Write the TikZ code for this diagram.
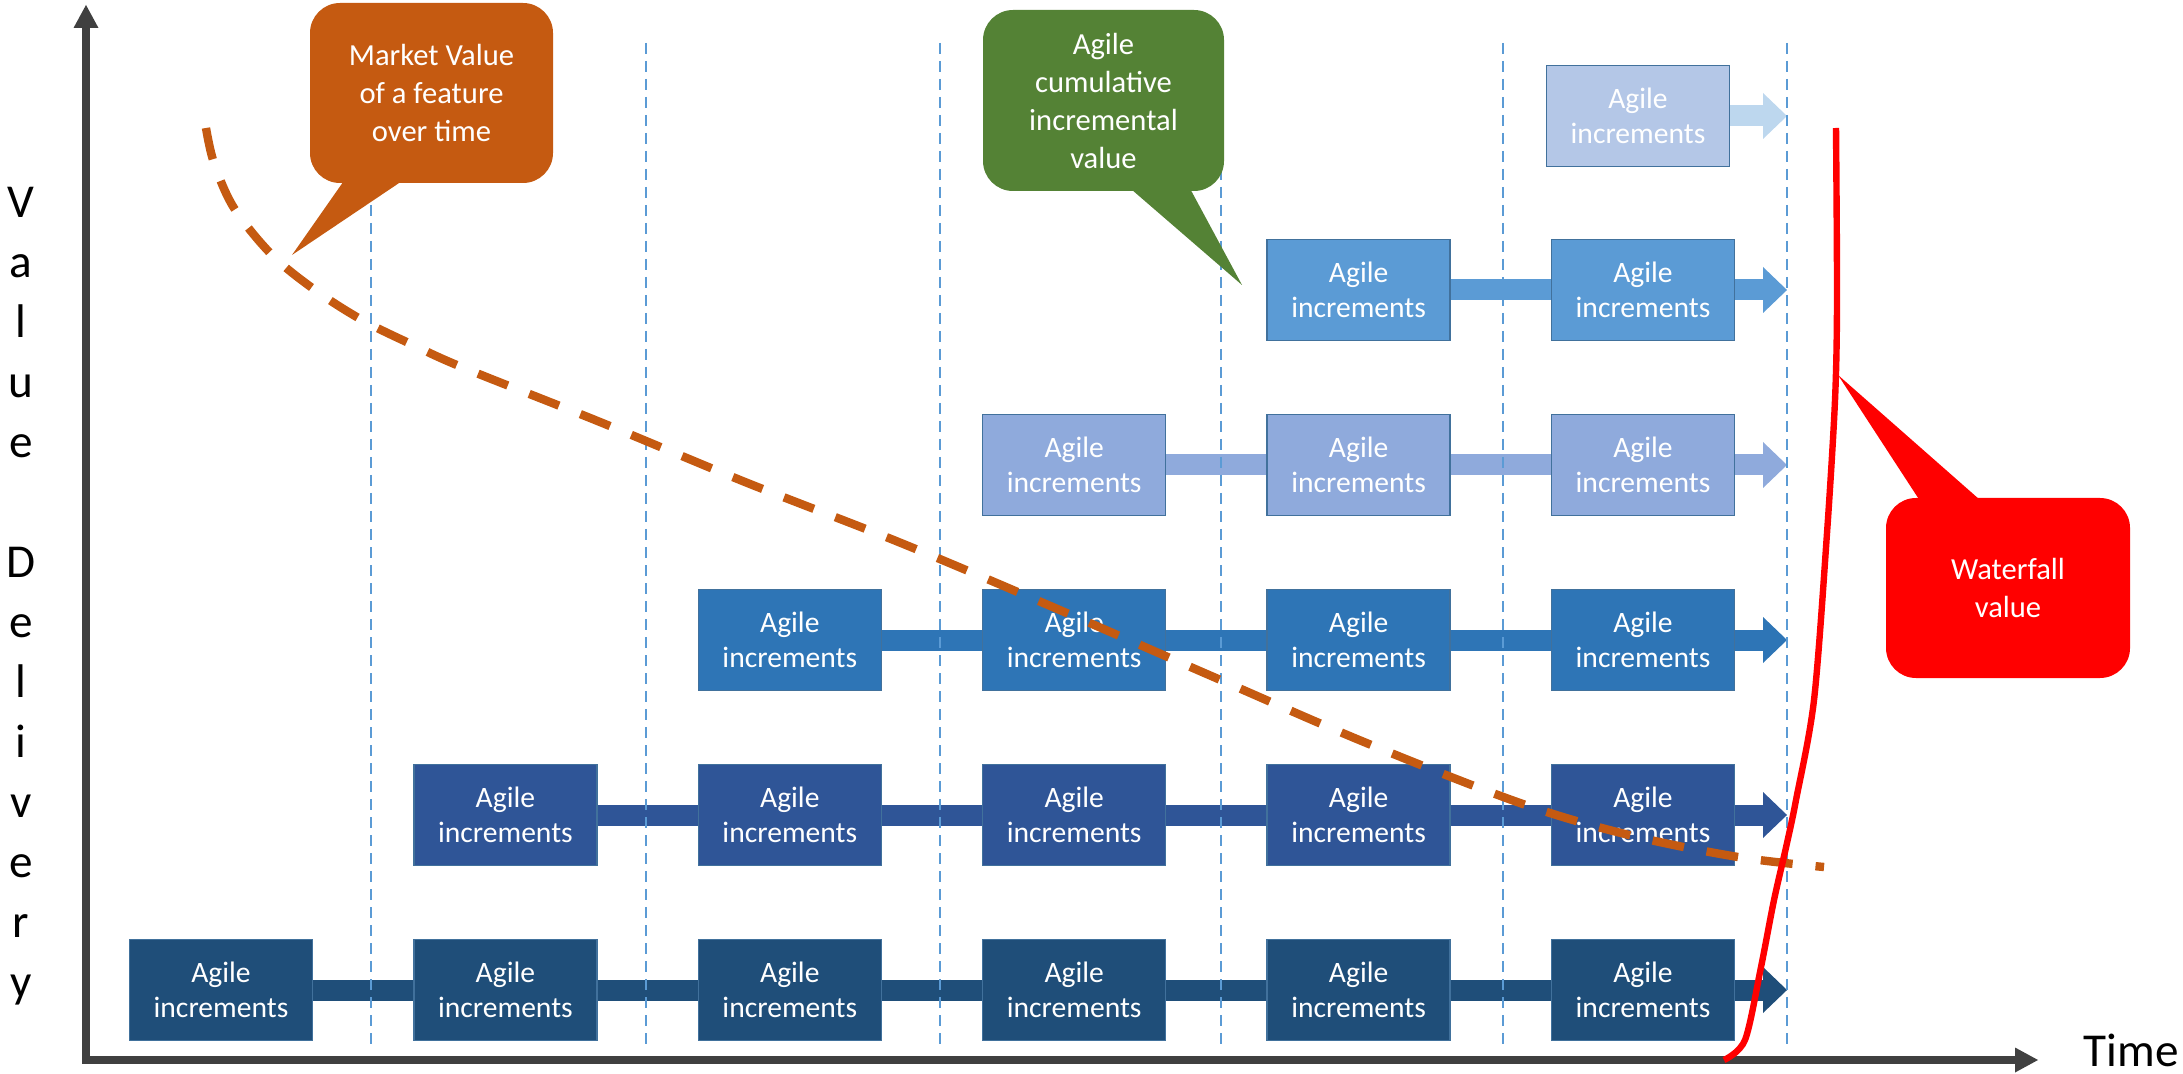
\documentclass[tikz,border=0pt]{standalone}
\usepackage{fontspec}
\setmainfont{Carlito}
\usetikzlibrary{arrows.meta}
\definecolor{axisgray}{HTML}{404040}
\definecolor{rowA}{HTML}{1F4E79}
\definecolor{rowB}{HTML}{2F5597}
\definecolor{rowC}{HTML}{2E75B6}
\definecolor{rowD}{HTML}{8FAADC}
\definecolor{rowE}{HTML}{5B9BD5}
\definecolor{rowF}{HTML}{B4C7E7}
\definecolor{rowFarrow}{HTML}{BDD7EE}
\definecolor{boxline}{HTML}{41719C}
\definecolor{gridblue}{HTML}{5B9BD5}
\definecolor{mvorange}{HTML}{C55A11}
\definecolor{aggreen}{HTML}{548235}
\definecolor{wfred}{HTML}{FF0000}
\begin{document}
\begin{tikzpicture}[x=0.5pt,y=-0.5pt,
  inc/.style={draw=boxline, line width=0.75pt, minimum width=91.5pt, minimum height=50.5pt,
    inner sep=0pt, align=center, text=white, font=\fontsize{14.8}{17.8}\selectfont},
  band/.style={line width=10.5pt},
  bandtip/.style={band, -{Triangle[length=12pt,width=23pt,line width=0pt]}},
  vgrid/.style={gridblue, line width=1pt, dash pattern=on 5.5pt off 3.5pt},
  axisline/.style={axisgray, line width=4pt, line join=miter,
    {Triangle[length=11.5pt,width=12.5pt,line width=0pt]}-{Triangle[length=11.5pt,width=12.5pt,line width=0pt]}},
  callout/.style={rounded corners=15pt, inner sep=0pt, align=center, text=white,
    font=\fontsize{15.3}{19}\selectfont},
  mvcurve/.style={mvorange, line width=4.2pt, dash pattern=on 16pt off 11.5pt},
  wfcurve/.style={wfred, line width=3.2pt},
  axislabel/.style={inner sep=0pt, font=\fontsize{23.6}{30}\selectfont, align=center}
]
\useasboundingbox (0,0) rectangle (2183,1074);

% boxes
\foreach \c in {0,...,5}
  \node[inc, fill=rowA] (r0c\c) at ({221+284.4*\c},990) {Agile\\increments};
\foreach \c in {1,...,5}
  \node[inc, fill=rowB] (r1c\c) at ({221+284.4*\c},815) {Agile\\increments};
\foreach \c in {2,...,5}
  \node[inc, fill=rowC] (r2c\c) at ({221+284.4*\c},640) {Agile\\increments};
\foreach \c in {3,...,5}
  \node[inc, fill=rowD] (r3c\c) at ({221+284.4*\c},465) {Agile\\increments};
\foreach \c in {4,5}
  \node[inc, fill=rowE] (r4c\c) at ({221+284.4*\c},290) {Agile\\increments};
\node[inc, fill=rowF] (r5c5) at (1638,116) {Agile\\increments};

% arrow tips (free ends)
\coordinate (tip0) at (1787,990);
\coordinate (tip1) at (1787,815);
\coordinate (tip2) at (1787,640);
\coordinate (tip3) at (1787,465);
\coordinate (tip4) at (1787,290);
\coordinate (tip5) at (1787,116);

% bands
\foreach \c [evaluate=\c as \n using int(\c+1)] in {0,...,4}
  \draw[band, rowA] (r0c\c.east) -- (r0c\n.west);
\foreach \c [evaluate=\c as \n using int(\c+1)] in {1,...,4}
  \draw[band, rowB] (r1c\c.east) -- (r1c\n.west);
\foreach \c [evaluate=\c as \n using int(\c+1)] in {2,...,4}
  \draw[band, rowC] (r2c\c.east) -- (r2c\n.west);
\foreach \c [evaluate=\c as \n using int(\c+1)] in {3,4}
  \draw[band, rowD] (r3c\c.east) -- (r3c\n.west);
\draw[band, rowE] (r4c4.east) -- (r4c5.west);
\draw[bandtip, rowA] (r0c5.east) -- (tip0);
\draw[bandtip, rowB] (r1c5.east) -- (tip1);
\draw[bandtip, rowC] (r2c5.east) -- (tip2);
\draw[bandtip, rowD] (r3c5.east) -- (tip3);
\draw[bandtip, rowE] (r4c5.east) -- (tip4);
\draw[bandtip, rowFarrow] (r5c5.east) -- (tip5);

% dashed grid lines
\foreach \x in {371,646,940,1221,1503,1787}
  \draw[vgrid] (\x,43) -- (\x,1050);

% axes
\coordinate (ytip) at (86,5);
\coordinate (origin) at (86,1060);
\coordinate (xtip) at (2038,1060);
\draw[axisline] (ytip) -- (origin) -- (xtip);
\node[axislabel, anchor=base] (timelbl) at (2131,1066) {Time};
\node[axislabel, anchor=north] (vallbl) at (21,187)
  {V\\a\\l\\u\\e\\[30pt]D\\e\\l\\i\\v\\e\\r\\y};

% market value curve
\draw[mvcurve] plot[smooth, tension=0.55] coordinates {(206,128) (214,163) (234,208) (272,255)
  (315,290) (362,320) (413,345) (464,368) (600,422) (745,482) (901,543) (1055,608)
  (1209,675) (1364,742) (1520,803) (1629,835) (1738,857) (1824,867)};

% waterfall curve
\draw[wfcurve] plot[smooth, tension=0.5] coordinates {(1724,1060) (1745,1040) (1761,967)
  (1774,900) (1787,843) (1796,800) (1814,700) (1827,533) (1835,400) (1837,300) (1836,128)};

% callouts
\node[callout, fill=mvorange, minimum width=121.5pt, minimum height=90pt] (mv) at (431.5,93)
  {Market Value\\of a feature\\over time};
\fill[mvorange] (348,175) -- (411,175) -- (292,255) -- cycle;
\node[callout, fill=aggreen, minimum width=120.5pt, minimum height=90.5pt] (ag) at (1103.5,100.5)
  {Agile\\cumulative\\incremental\\value};
\fill[aggreen] (1124,183) -- (1187,183) -- (1242,285) -- cycle;
\node[callout, fill=wfred, minimum width=122pt, minimum height=90pt] (wf) at (2008,588)
  {Waterfall\\value};
\fill[wfred] (1924,507) -- (1988,507) -- (1838,375) -- cycle;
\end{tikzpicture}
\end{document}
